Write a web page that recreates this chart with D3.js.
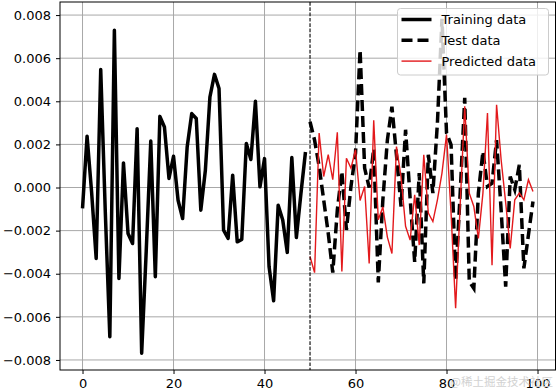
<!DOCTYPE html>
<html>
<head>
<meta charset="utf-8">
<script src="https://cdn.jsdelivr.net/npm/d3@7"></script>
<style>
    body { margin: 0; background: #fff; }
    text { font-family: "DejaVu Sans", sans-serif; }
</style>
</head>
<body>
<div id="chart"></div>
<script>
// values
const trainX = d3.range(0, 50);
const trainData = [
    -0.00097, 0.00238, -0.00023, -0.00329, 0.00547, -0.00110, -0.00692, 0.00729, -0.00422, 0.00114,
    -0.00213, -0.00260, 0.00273, -0.00769, -0.00295, 0.00216, -0.00414, 0.00330, 0.00281, 0.00042,
    0.00145, -0.00059, -0.00144, 0.00188, 0.00343, 0.00320, -0.00105, 0.00080, 0.00420, 0.00525,
    0.00459, -0.00198, -0.00236, 0.00057, -0.00252, -0.00241, 0.00204, 0.00130, 0.00400, 0.00003,
    0.00134, -0.00368, -0.00525, -0.00082, -0.00151, -0.00301, 0.00139, -0.00232, -0.00028, 0.00165
];
const testX = d3.range(50, 100);
const testData = [
    0.00305, 0.00220, 0.00098, -0.00057, -0.00212, -0.00395, -0.00104, 0.00074, -0.00197, 0.00005,
    0.00160, 0.00639, 0.00090, 0.00000, 0.00180, -0.00440, -0.00060, 0.00220, 0.00375, 0.00150,
    -0.00088, 0.00268, -0.00050, -0.00345, 0.00067, -0.00445, 0.00152, -0.00026, 0.00300, 0.00783,
    0.00253, 0.00198, -0.00430, -0.00026, 0.00416, -0.00437, -0.00468, -0.00026, 0.00167, 0.00005,
    0.00020, 0.00220, -0.00104, -0.00460, 0.00051, -0.00010, 0.00105, -0.00375, -0.00220, -0.00065
];
const predData = [
    -0.00320, -0.00395, 0.00253, 0.00051, 0.00152, 0.00036, 0.00256, -0.00390, 0.00136, 0.00090,
    0.00175, -0.00060, 0.00005, -0.00352, 0.00312, -0.00150, -0.00090, -0.00230, -0.00306, 0.00190,
    0.00050, -0.00180, -0.00244, -0.00034, -0.00267, 0.00152, -0.00119, -0.00158, -0.00057, 0.00067,
    0.00245, -0.00120, -0.00560, -0.00080, 0.00377, -0.00026, -0.00088, -0.00236, -0.00026, 0.00346,
    -0.00360, 0.00384, 0.00129, -0.00070, -0.00283, -0.00057, -0.00026, -0.00057, 0.00036, -0.00019
];
const splitAt = 50;
const xTicks = [0, 20, 40, 60, 80, 100];
const yTicks = [-0.008, -0.006, -0.004, -0.002, 0, 0.002, 0.004, 0.006, 0.008];
const legendLabels = ["Training data", "Test data", "Predicted data"];

const WIDTH = 557, HEIGHT = 391;
const margin = {left: 60, top: 2, right: 1.5, bottom: 21};

function init() {
    const svg = d3.select("#chart").append("svg")
        .attr("width", WIDTH)
        .attr("height", HEIGHT);

    const pw = WIDTH - margin.left - margin.right;
    const ph = HEIGHT - margin.top - margin.bottom;

    // matplotlib style 5% margins
    const allY = trainData.concat(testData, predData);
    const yMin = d3.min(allY), yMax = d3.max(allY);
    const yPad = (yMax - yMin) * 0.05;
    const xPad = 99 * 0.05;

    const x = d3.scaleLinear().domain([-xPad, 99 + xPad]).range([0, pw]);
    const y = d3.scaleLinear().domain([yMin - yPad, yMax + yPad]).range([ph, 0]);

    const g = svg.append("g")
        .attr("transform", "translate(" + margin.left + "," + margin.top + ")");

    // grid
    g.append("g").selectAll("line").data(xTicks).enter().append("line")
        .attr("x1", d => x(d)).attr("x2", d => x(d))
        .attr("y1", 0).attr("y2", ph)
        .attr("stroke", "#a8a8a8").attr("stroke-width", 1);
    g.append("g").selectAll("line").data(yTicks).enter().append("line")
        .attr("x1", 0).attr("x2", pw)
        .attr("y1", d => y(d)).attr("y2", d => y(d))
        .attr("stroke", "#a8a8a8").attr("stroke-width", 1);

    const lineOf = xs => d3.line().x((d, i) => x(xs[i])).y(d => y(d));

    g.append("path").datum(trainData)
        .attr("d", lineOf(trainX))
        .attr("fill", "none").attr("stroke", "#000")
        .attr("stroke-width", 3.5).attr("stroke-linejoin", "round");

    g.append("path").datum(testData)
        .attr("d", lineOf(testX))
        .attr("fill", "none").attr("stroke", "#000")
        .attr("stroke-width", 3.5).attr("stroke-dasharray", "11,5");

    g.append("path").datum(predData)
        .attr("d", lineOf(testX))
        .attr("fill", "none").attr("stroke", "#e3191c")
        .attr("stroke-width", 1.4);

    g.append("line")
        .attr("x1", x(splitAt)).attr("x2", x(splitAt))
        .attr("y1", 0).attr("y2", ph)
        .attr("stroke", "#000").attr("stroke-width", 1.1)
        .attr("stroke-dasharray", "3.7,1.6");

    // axes
    const xAxis = d3.axisBottom(x).tickValues(xTicks).tickSize(4).tickPadding(5);
    const yAxis = d3.axisLeft(y).tickValues(yTicks).tickSize(4).tickPadding(5)
        .tickFormat(d => d3.format(".3f")(d).replace("-", "\u2212"));

    const gx = g.append("g").attr("transform", "translate(0," + ph + ")").call(xAxis);
    const gy = g.append("g").call(yAxis);
    [gx, gy].forEach(a => {
        a.select(".domain").remove();
        a.selectAll("text").attr("font-size", 13).attr("fill", "#000")
            .style("font-family", "DejaVu Sans");
        a.selectAll("line").attr("stroke", "#000");
    });

    g.append("rect")
        .attr("width", pw).attr("height", ph)
        .attr("fill", "none").attr("stroke", "#000").attr("stroke-width", 1);

    addLegend(g, pw);

    // site watermark, bottom right
    svg.append("text")
        .attr("x", WIDTH - 4).attr("y", 386)
        .attr("text-anchor", "end")
        .attr("font-size", 11.5)
        .attr("fill", "#d2d2d2")
        .style("font-family", "Noto Sans CJK SC")
        .text("@稀土掘金技术社区");
}

function addLegend(g, pw) {
    const boxX = 337.5, boxY = 6.5, boxW = 151, boxH = 66.5;
    const lg = g.append("g");
    lg.append("rect")
        .attr("x", boxX).attr("y", boxY)
        .attr("width", boxW).attr("height", boxH)
        .attr("rx", 3)
        .attr("fill", "#fff").attr("fill-opacity", 0.8)
        .attr("stroke", "#cccccc").attr("stroke-width", 1);

    const styles = [
        {stroke: "#000", width: 3.5, dash: null},
        {stroke: "#000", width: 3.5, dash: "11,5"},
        {stroke: "#e3191c", width: 1.4, dash: null}
    ];
    for (let i = 0; i < legendLabels.length; i++) {
        const cy = boxY + 11 + i * 20.8;
        const l = lg.append("line")
            .attr("x1", boxX + 4).attr("x2", boxX + 34)
            .attr("y1", cy).attr("y2", cy)
            .attr("stroke", styles[i].stroke)
            .attr("stroke-width", styles[i].width);
        if (styles[i].dash) {
            l.attr("stroke-dasharray", styles[i].dash);
        }
        lg.append("text")
            .attr("x", boxX + 44).attr("y", cy)
            .attr("dy", "0.36em")
            .attr("font-size", 13)
            .text(legendLabels[i]);
    }
}

window.onload = function () {
    init();
};
</script>
</body>
</html>
